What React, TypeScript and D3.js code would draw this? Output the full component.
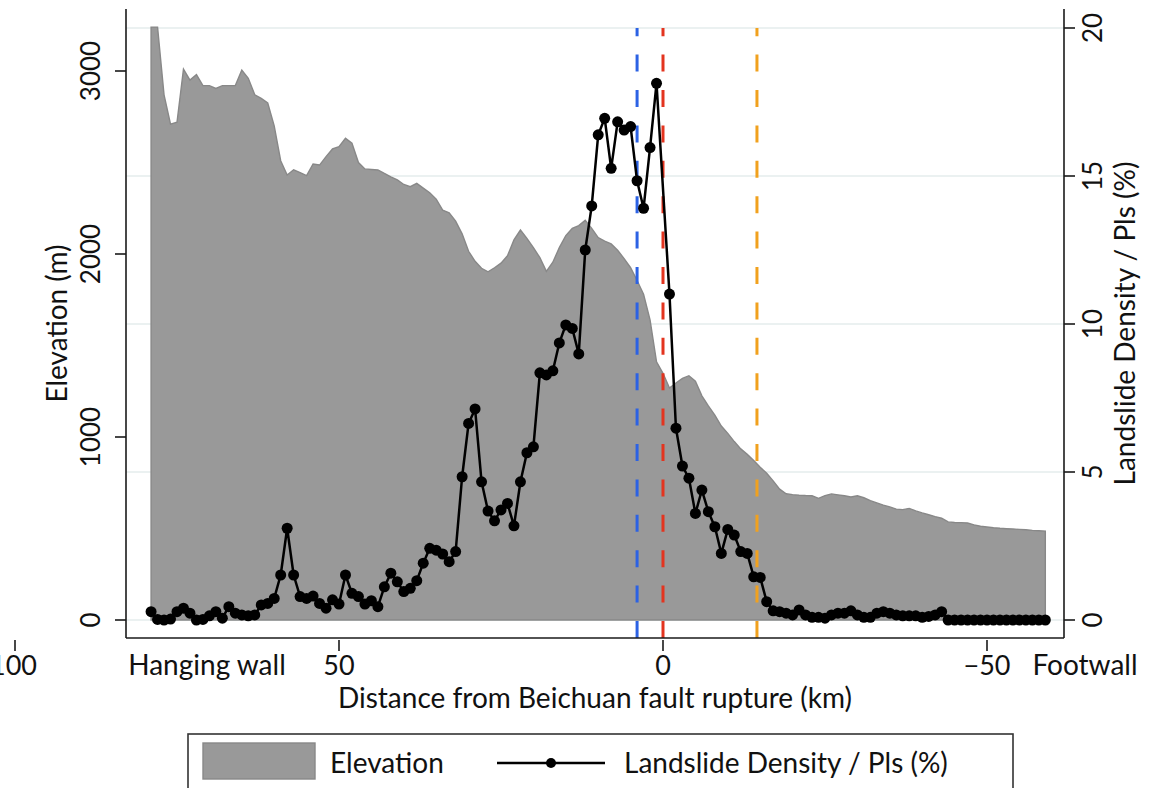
import { useEffect, useRef } from "react";
import * as d3 from "d3";

// distance from the Beichuan rupture, km (hanging wall positive)
const distanceKm = d3.range(79, -60, -1);

// elevation profile, m
const elevation = [
  3240, 3240, 2870, 2710, 2720, 3010, 2950, 2980, 2920, 2920,
  2905, 2920, 2920, 2920, 3005, 2960, 2870, 2850, 2825, 2700,
  2510, 2432, 2460, 2445, 2428, 2492, 2486, 2532, 2574, 2586,
  2632, 2605, 2500, 2465, 2462, 2459, 2440, 2422, 2405, 2380,
  2368, 2386, 2360, 2335, 2300, 2240, 2225, 2180, 2110, 2015,
  1960, 1922, 1903, 1925, 1950, 1990, 2077, 2131, 2085, 2035,
  1980, 1905, 1955, 2035, 2100, 2140, 2155, 2185, 2140, 2090,
  2070, 2055, 2020, 1975, 1925, 1855, 1780, 1640, 1411, 1348,
  1268, 1295, 1320, 1335, 1305, 1225, 1170, 1120, 1060, 1020,
  975, 935, 905, 872, 835, 802, 760, 715, 690, 685,
  682, 680, 679, 665, 680, 689, 684, 679, 672, 679,
  668, 652, 640, 628, 618, 606, 603, 610, 596, 585,
  575, 565, 556, 536, 533, 532, 530, 520, 512, 508,
  504, 501, 499, 497, 495, 493, 490, 488, 486,
];

// landslide density / PIs, % (no sample on the rupture itself)
const density: (number | null)[] = [
  0.28, 0.02, 0, 0.03, 0.28, 0.4, 0.23, 0, 0.02, 0.14,
  0.28, 0.06, 0.45, 0.23, 0.17, 0.14, 0.17, 0.51, 0.56, 0.73,
  1.52, 3.1, 1.52, 0.79, 0.73, 0.81, 0.56, 0.4, 0.68, 0.54,
  1.52, 0.9, 0.79, 0.54, 0.65, 0.45, 1.12, 1.58, 1.29, 0.96,
  1.07, 1.33, 1.92, 2.42, 2.36, 2.23, 1.97, 2.31, 4.84, 6.64,
  7.13, 4.67, 3.68, 3.35, 3.72, 3.94, 3.18, 4.67, 5.65, 5.85,
  8.35, 8.28, 8.42, 9.36, 9.97, 9.85, 8.99, 12.5, 13.99, 16.39,
  16.95, 15.26, 16.83, 16.55, 16.67, 14.84, 13.91, 15.96, 18.13, null,
  11.01, 6.48, 5.2, 4.79, 3.6, 4.39, 3.66, 3.15, 2.25, 3.06,
  2.87, 2.31, 2.25, 1.46, 1.44, 0.62, 0.31, 0.28, 0.23, 0.17,
  0.34, 0.17, 0.09, 0.09, 0.06, 0.17, 0.23, 0.23, 0.31, 0.17,
  0.09, 0.09, 0.23, 0.28, 0.23, 0.17, 0.14, 0.14, 0.14, 0.09,
  0.12, 0.17, 0.28, 0, 0, 0, 0, 0, 0, 0,
  0, 0, 0, 0, 0, 0, 0, 0, 0,
];

const leftTicks = [0, 1000, 2000, 3000];
const rightTicks = [0, 5, 10, 15, 20];
const bottomTicks = [100, 50, 0, -50];
const bottomTickLabels = ["100", "50", "0", "\u221250"];

const faultLines = [
  { km: 4, color: "#2c62e4" },
  { km: 0, color: "#e3341f" },
  { km: -14.5, color: "#f1a11e" },
];

const FONT = "Lato, 'Open Sans', sans-serif";

export default function App() {
  const ref = useRef<SVGSVGElement>(null);

  useEffect(() => {
    if (!ref.current) return;
    const width = 1154;
    const height = 788;
    const left = 126;
    const right = 1064;
    const top = 9;
    const bottom = 638;

    const svg = d3.select(ref.current);
    svg.selectAll("*").remove();
    svg.attr("width", width).attr("height", height);

    const x = d3.scaleLinear().domain([100, -50]).range([15, 987]);
    const yL = d3.scaleLinear().domain([0, 3000]).range([620, 71]);
    const yR = d3.scaleLinear().domain([0, 20]).range([620, 28]);

    const rows = distanceKm.map((km, i) => ({
      km,
      elev: elevation[i],
      dens: density[i],
    }));

    // gridlines from the right axis
    svg
      .append("g")
      .selectAll("line")
      .data(rightTicks)
      .join("line")
      .attr("x1", left)
      .attr("x2", right)
      .attr("y1", (d) => yR(d))
      .attr("y2", (d) => yR(d))
      .attr("stroke", "#e5eded")
      .attr("stroke-width", 1.5);

    const area = d3
      .area<(typeof rows)[number]>()
      .x((d) => x(d.km))
      .y0(yL(0))
      .y1((d) => yL(d.elev));

    svg
      .append("path")
      .datum(rows)
      .attr("fill", "#999999")
      .attr("stroke", "#888888")
      .attr("stroke-width", 1.4)
      .attr("d", area);

    svg
      .append("g")
      .selectAll("line")
      .data(faultLines)
      .join("line")
      .attr("x1", (d) => x(d.km))
      .attr("x2", (d) => x(d.km))
      .attr("y1", bottom)
      .attr("y2", yR(20))
      .attr("stroke", (d) => d.color)
      .attr("stroke-width", 3)
      .attr("stroke-dasharray", "17 18.4");

    const pts = rows.filter((d) => d.dens !== null) as {
      km: number;
      elev: number;
      dens: number;
    }[];

    const line = d3
      .line<(typeof pts)[number]>()
      .x((d) => x(d.km))
      .y((d) => yR(d.dens));

    svg
      .append("path")
      .datum(pts)
      .attr("fill", "none")
      .attr("stroke", "#000")
      .attr("stroke-width", 2.5)
      .attr("stroke-linejoin", "round")
      .attr("d", line);

    svg
      .append("g")
      .selectAll("circle")
      .data(pts)
      .join("circle")
      .attr("cx", (d) => x(d.km))
      .attr("cy", (d) => yR(d.dens))
      .attr("r", 5.5)
      .attr("fill", "#000");

    // axis frame
    const axisColor = "#1a1a1a";
    const frame = svg.append("g").attr("stroke", axisColor).attr("stroke-width", 1.6);
    frame.append("line").attr("x1", left).attr("x2", left).attr("y1", top).attr("y2", bottom);
    frame.append("line").attr("x1", right).attr("x2", right).attr("y1", top).attr("y2", bottom);
    frame.append("line").attr("x1", left).attr("x2", right).attr("y1", bottom).attr("y2", bottom);

    const ticks = svg
      .append("g")
      .attr("font-family", FONT)
      .attr("font-size", 26)
      .attr("fill", "#111");
    const text = svg
      .append("g")
      .attr("font-family", FONT)
      .attr("font-size", 28)
      .attr("fill", "#111");

    // left ticks
    leftTicks.forEach((t) => {
      frame.append("line").attr("x1", left - 11).attr("x2", left).attr("y1", yL(t)).attr("y2", yL(t));
      ticks
        .append("text")
        .attr("transform", `translate(100,${yL(t)}) rotate(-90)`)
        .attr("text-anchor", "middle")
        .text(String(t));
    });

    // right ticks
    rightTicks.forEach((t) => {
      frame.append("line").attr("x1", right).attr("x2", right + 11).attr("y1", yR(t)).attr("y2", yR(t));
      ticks
        .append("text")
        .attr("transform", `translate(1102,${yR(t)}) rotate(-90)`)
        .attr("text-anchor", "middle")
        .text(String(t));
    });

    // bottom ticks (the 100 label runs off the left edge, as in the source figure)
    bottomTicks.forEach((t, i) => {
      frame.append("line").attr("x1", x(t)).attr("x2", x(t)).attr("y1", bottom + 2).attr("y2", bottom + 13);
      ticks
        .append("text")
        .attr("x", t === 100 ? x(t) + 22 : x(t))
        .attr("y", 675)
        .attr("font-size", 27)
        .attr("text-anchor", t === 100 ? "end" : "middle")
        .text(bottomTickLabels[i]);
    });

    text.append("text").attr("x", 207).attr("y", 675).attr("text-anchor", "middle").text("Hanging wall");
    text.append("text").attr("x", 1085).attr("y", 675).attr("text-anchor", "middle").text("Footwall");

    text
      .append("text")
      .attr("x", (left + right) / 2)
      .attr("y", 708)
      .attr("text-anchor", "middle")
      .text("Distance from Beichuan fault rupture (km)");

    text
      .append("text")
      .attr("transform", `translate(67,${(top + bottom) / 2}) rotate(-90)`)
      .attr("text-anchor", "middle")
      .text("Elevation (m)");

    text
      .append("text")
      .attr("transform", `translate(1135,${(top + bottom) / 2}) rotate(-90)`)
      .attr("text-anchor", "middle")
      .text("Landslide Density / Pls (%)");

    // legend
    const lg = svg.append("g");
    lg.append("rect")
      .attr("x", 188)
      .attr("y", 734)
      .attr("width", 825)
      .attr("height", 70)
      .attr("fill", "#fff")
      .attr("stroke", "#333")
      .attr("stroke-width", 1.6);
    lg.append("rect")
      .attr("x", 203)
      .attr("y", 743)
      .attr("width", 112)
      .attr("height", 36)
      .attr("fill", "#999999")
      .attr("stroke", "#888888")
      .attr("stroke-width", 1.4);
    lg.append("line")
      .attr("x1", 497)
      .attr("x2", 605)
      .attr("y1", 763)
      .attr("y2", 763)
      .attr("stroke", "#000")
      .attr("stroke-width", 2.5);
    lg.append("circle").attr("cx", 551).attr("cy", 763).attr("r", 5).attr("fill", "#000");
    const lt = lg.append("g").attr("font-family", FONT).attr("font-size", 28).attr("fill", "#111");
    lt.append("text").attr("x", 330).attr("y", 773).text("Elevation");
    lt.append("text").attr("x", 624).attr("y", 773).text("Landslide Density / Pls (%)");
  }, []);

  return (
    <svg
      ref={ref}
      style={{ position: "absolute", left: 0, top: 0, background: "#fff" }}
    />
  );
}
